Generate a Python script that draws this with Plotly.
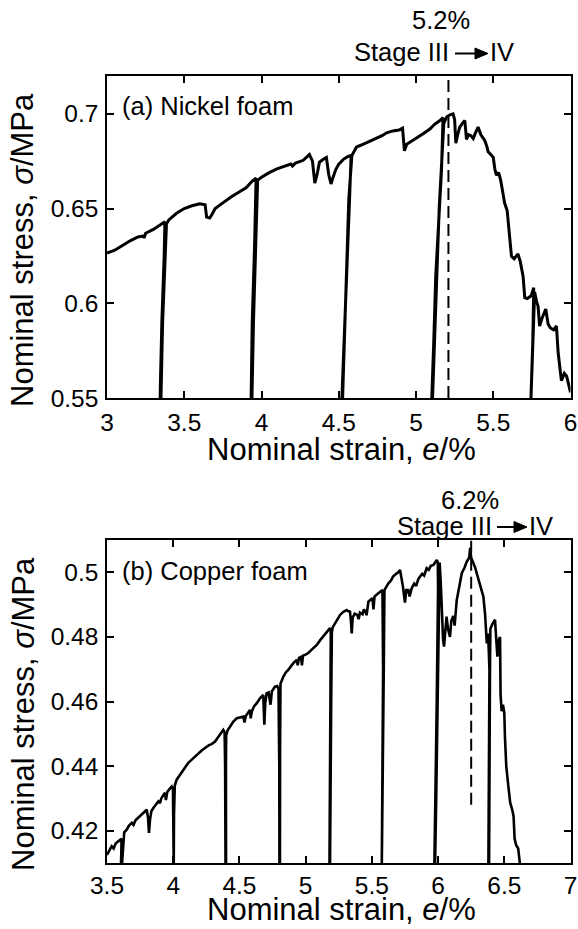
import plotly.graph_objects as go

W, H = 578, 929

# ---------------- data: (a) Nickel foam ----------------
ni_strain = [3.00, 3.05, 3.10, 3.15, 3.20, 3.235, 3.24, 3.25, 3.30, 3.35, 3.375,
             3.37, 3.355, 3.345, 3.343, 3.348, 3.36, 3.375, 3.385,
             3.40, 3.45, 3.50, 3.55, 3.60, 3.635, 3.645, 3.665, 3.68, 3.70, 3.75, 3.80, 3.85, 3.90, 3.94, 3.965,
             3.955, 3.94, 3.932, 3.937, 3.948, 3.962, 3.975,
             4.00, 4.05, 4.10, 4.15, 4.19, 4.20, 4.22, 4.27, 4.31, 4.33, 4.345, 4.36, 4.375, 4.40, 4.42, 4.435,
             4.45, 4.465, 4.48, 4.50, 4.53, 4.56, 4.58,
             4.57, 4.555, 4.54, 4.525, 4.518, 4.523, 4.535, 4.55, 4.565, 4.585,
             4.615, 4.66, 4.70, 4.745, 4.78, 4.81, 4.85, 4.89, 4.913, 4.925, 4.94, 4.96, 5.00, 5.046, 5.09,
             5.12, 5.155, 5.175,
             5.165, 5.14, 5.128, 5.115, 5.10, 5.105, 5.12, 5.134, 5.15, 5.18,
             5.20, 5.22, 5.24, 5.25, 5.258, 5.27, 5.283, 5.30, 5.316, 5.327, 5.34, 5.355, 5.37, 5.385, 5.402,
             5.42, 5.445, 5.458, 5.467, 5.49, 5.50, 5.51, 5.52, 5.535, 5.548, 5.565, 5.574, 5.59, 5.60, 5.618,
             5.635, 5.66, 5.675, 5.693, 5.704, 5.72, 5.746, 5.762,
             5.756, 5.748, 5.742, 5.746, 5.752, 5.760, 5.768,
             5.78, 5.79, 5.80, 5.815, 5.84, 5.855, 5.87, 5.89, 5.909, 5.92, 5.941, 5.96, 5.975, 5.99, 6.00]
ni_stress = [0.6265, 0.628, 0.6305, 0.633, 0.635, 0.6355, 0.6345, 0.637, 0.639, 0.6415, 0.643,
             0.625, 0.59, 0.555, 0.545, 0.545, 0.59, 0.625, 0.642,
             0.644, 0.6475, 0.650, 0.6515, 0.6525, 0.652, 0.6455, 0.645, 0.647, 0.650, 0.653, 0.656, 0.6585, 0.661, 0.6645, 0.666,
             0.63, 0.59, 0.545, 0.545, 0.59, 0.63, 0.665,
             0.6665, 0.669, 0.671, 0.6725, 0.6735, 0.6725, 0.674, 0.6755, 0.6785, 0.675, 0.6635, 0.668, 0.6745, 0.676, 0.677, 0.668,
             0.663, 0.667, 0.6705, 0.6735, 0.676, 0.6775, 0.678,
             0.655, 0.625, 0.595, 0.56, 0.545, 0.545, 0.58, 0.62, 0.655, 0.678,
             0.6825, 0.684, 0.6855, 0.687, 0.6885, 0.690, 0.691, 0.6915, 0.6925, 0.6805, 0.684, 0.685, 0.687, 0.6895, 0.692,
             0.6945, 0.6965, 0.698,
             0.67, 0.635, 0.615, 0.58, 0.545, 0.545, 0.58, 0.615, 0.65, 0.695,
             0.6985, 0.6995, 0.700, 0.697, 0.6845, 0.689, 0.693, 0.695, 0.6965, 0.6865, 0.689, 0.6885, 0.687, 0.690, 0.693,
             0.689, 0.686, 0.683, 0.680, 0.678, 0.677, 0.671, 0.6676, 0.669, 0.665, 0.657, 0.6528, 0.649, 0.64, 0.6248,
             0.6235, 0.626, 0.622, 0.6143, 0.603, 0.6025, 0.604, 0.6082,
             0.58, 0.56, 0.545, 0.545, 0.56, 0.585, 0.606,
             0.601, 0.5985, 0.588, 0.592, 0.597, 0.589, 0.587, 0.586, 0.588, 0.574, 0.5592, 0.563, 0.5615, 0.556, 0.553]

# ---------------- data: (b) Copper foam ----------------
cu_strain = [3.50, 3.52, 3.535, 3.55, 3.565, 3.585, 3.60, 3.61,
             3.608, 3.605, 3.612, 3.618,
             3.63, 3.649, 3.665, 3.687, 3.70, 3.715, 3.737, 3.76, 3.78, 3.80, 3.81, 3.817, 3.825, 3.835, 3.85,
             3.87, 3.888, 3.90, 3.91, 3.925, 3.938, 3.945, 3.955, 3.97, 3.989, 3.998,
             4.000, 4.000, 4.004, 4.006,
             4.012, 4.026, 4.045, 4.064, 4.09, 4.114, 4.14, 4.165, 4.19, 4.215, 4.24, 4.27, 4.29, 4.316, 4.34,
             4.36, 4.378, 4.388,
             4.392, 4.395, 4.399, 4.398, 4.40, 4.41,
             4.429, 4.454, 4.48, 4.50, 4.53, 4.538, 4.548, 4.565, 4.58, 4.585, 4.593, 4.61, 4.631, 4.655, 4.68,
             4.688, 4.695, 4.705, 4.72, 4.735, 4.745, 4.769, 4.785, 4.795,
             4.801, 4.802, 4.806, 4.807, 4.81,
             4.832, 4.85, 4.869, 4.89, 4.91, 4.933, 4.94, 4.95, 4.965, 4.972, 4.98, 5.00, 5.02, 5.05, 5.084,
             5.11, 5.134, 5.16, 5.184, 5.19,
             5.188, 5.18, 5.184, 5.193, 5.198,
             5.205, 5.222, 5.24, 5.26, 5.285, 5.31, 5.32, 5.335, 5.342, 5.348, 5.355, 5.37, 5.39, 5.40, 5.41,
             5.43, 5.44, 5.455, 5.46, 5.474, 5.49, 5.505, 5.512, 5.52, 5.54, 5.562, 5.58,
             5.585, 5.575, 5.58, 5.59, 5.595,
             5.61, 5.625, 5.645, 5.66, 5.685, 5.70, 5.713, 5.725, 5.735, 5.75, 5.76, 5.775, 5.785, 5.80, 5.82,
             5.835, 5.85, 5.864, 5.88, 5.895, 5.914, 5.93, 5.945, 5.965, 5.978, 5.99, 5.998,
             6.000, 5.99, 5.98, 5.972, 5.977, 5.986, 5.995, 6.006,
             6.012, 6.02, 6.028, 6.038, 6.045, 6.055, 6.064, 6.075, 6.09, 6.10, 6.115, 6.125, 6.141, 6.16, 6.179,
             6.20, 6.217, 6.235, 6.242, 6.25, 6.267, 6.28, 6.29, 6.30, 6.317, 6.33, 6.342, 6.355, 6.368, 6.378,
             6.388, 6.38, 6.385, 6.392, 6.395,
             6.41, 6.43, 6.438, 6.448, 6.458, 6.468, 6.472, 6.48, 6.49, 6.50, 6.505, 6.515, 6.53, 6.545, 6.56,
             6.57, 6.578, 6.59, 6.605, 6.615, 6.62]
cu_stress = [0.4125, 0.414, 0.4152, 0.4145, 0.416, 0.4167, 0.4172, 0.4175,
             0.413, 0.409, 0.409, 0.414,
             0.4195, 0.4203, 0.4215, 0.4224, 0.4218, 0.4232, 0.424, 0.425, 0.4258, 0.4265, 0.424, 0.4193, 0.4235, 0.426, 0.427,
             0.428, 0.4291, 0.4285, 0.430, 0.431, 0.4317, 0.4295, 0.432, 0.4328, 0.4337, 0.433,
             0.420, 0.409, 0.409, 0.425,
             0.434, 0.4358, 0.437, 0.4379, 0.4395, 0.441, 0.442, 0.443, 0.4438, 0.4448, 0.4456, 0.4465, 0.4468, 0.4476, 0.449,
             0.450, 0.4512, 0.4505,
             0.440, 0.409, 0.409, 0.440, 0.4495, 0.451,
             0.4522, 0.4538, 0.4548, 0.455, 0.4553, 0.4535, 0.4555, 0.4565, 0.4574, 0.4548, 0.4568, 0.4585, 0.4595, 0.461, 0.462,
             0.4528, 0.4595, 0.4625, 0.4628, 0.459, 0.4632, 0.4646, 0.4648, 0.464,
             0.440, 0.409, 0.409, 0.445, 0.4655,
             0.4677, 0.469, 0.4698, 0.471, 0.472, 0.4729, 0.4712, 0.4735, 0.4738, 0.4712, 0.4742, 0.4745, 0.475, 0.4762, 0.4775,
             0.479, 0.4801, 0.4815, 0.4827, 0.482,
             0.460, 0.409, 0.409, 0.460, 0.4815,
             0.483, 0.4842, 0.4855, 0.4868, 0.4878, 0.4883, 0.488, 0.4878, 0.485, 0.4811, 0.486, 0.4872, 0.4868, 0.4855, 0.4875,
             0.487, 0.4885, 0.4875, 0.4867, 0.4909, 0.4915, 0.492, 0.4885, 0.4925, 0.4932, 0.494, 0.4945,
             0.470, 0.409, 0.409, 0.470, 0.4945,
             0.4958, 0.4966, 0.4975, 0.4987, 0.4996, 0.500, 0.5007, 0.498, 0.4955, 0.4906, 0.4945, 0.4945, 0.4925, 0.495, 0.4965,
             0.4958, 0.4978, 0.4987, 0.4995, 0.499, 0.5013, 0.5008, 0.502, 0.5023, 0.503, 0.5038, 0.503,
             0.495, 0.460, 0.430, 0.409, 0.409, 0.430, 0.460, 0.497,
             0.503, 0.497, 0.4873, 0.479, 0.477, 0.483, 0.4863, 0.4825, 0.480, 0.485, 0.4865, 0.4835, 0.4914, 0.4955, 0.4997,
             0.5015, 0.5033, 0.5045, 0.5076, 0.5045, 0.503, 0.5015, 0.500, 0.4985, 0.4956, 0.4945, 0.4925, 0.487, 0.478, 0.481,
             0.470, 0.409, 0.409, 0.470, 0.4825,
             0.484, 0.4853, 0.480, 0.4739, 0.479, 0.480, 0.462, 0.457, 0.459, 0.4565, 0.449, 0.440, 0.434, 0.4286, 0.4265,
             0.4245, 0.4175, 0.4155, 0.4145, 0.411, 0.409]

# stage III -> IV transition markers (strain, dashed line y-extent)
ni_stage_strain = 5.21
ni_stage_y = [0.55, 0.72]
cu_stage_strain = 6.25
cu_stage_y = [0.428, 0.51]

# axis ticks
ni_xticks = [3, 3.5, 4, 4.5, 5, 5.5, 6]
ni_xtext = ["3", "3.5", "4", "4.5", "5", "5.5", "6"]
ni_yticks = [0.55, 0.6, 0.65, 0.7]
ni_ytext = ["0.55", "0.6", "0.65", "0.7"]
cu_xticks = [3.5, 4, 4.5, 5, 5.5, 6, 6.5, 7]
cu_xtext = ["3.5", "4", "4.5", "5", "5.5", "6", "6.5", "7"]
cu_yticks = [0.42, 0.44, 0.46, 0.48, 0.5]
cu_ytext = ["0.42", "0.44", "0.46", "0.48", "0.5"]

FONT = "Liberation Sans, Arial, Helvetica, sans-serif"
TICKF = 24.5
TITLEF = 31
ANNF = 25.5


def xp(px):
    return px / W


def yp(py):
    return 1 - py / H


fig = go.Figure()
fig.add_trace(go.Scatter(x=ni_strain, y=ni_stress, mode="lines",
                         line=dict(color="black", width=3), xaxis="x", yaxis="y",
                         showlegend=False, hoverinfo="skip"))
fig.add_trace(go.Scatter(x=cu_strain, y=cu_stress, mode="lines",
                         line=dict(color="black", width=2.6), xaxis="x2", yaxis="y2",
                         showlegend=False, hoverinfo="skip"))

axis_common = dict(showline=True, linecolor="black", linewidth=1.5, mirror="ticks",
                   ticks="inside", ticklen=7, tickwidth=1.5, tickcolor="black",
                   showgrid=False, zeroline=False, automargin=False,
                   tickfont=dict(family=FONT, size=TICKF, color="black"))

top_dom = [yp(398), yp(76)]
bot_dom = [yp(863), yp(540)]
xdom = [xp(107), xp(570.5)]

fig.update_layout(
    width=W, height=H, margin=dict(l=0, r=0, t=0, b=0),
    paper_bgcolor="white", plot_bgcolor="white",
    xaxis=dict(domain=xdom, range=[3, 6], tickvals=ni_xticks, ticktext=ni_xtext,
               anchor="y", ticklabelstandoff=2, **axis_common),
    yaxis=dict(domain=top_dom, range=[0.55, 0.72], tickvals=ni_yticks, ticktext=ni_ytext,
               anchor="x", ticklabelstandoff=2, **axis_common),
    xaxis2=dict(domain=xdom, range=[3.5, 7], tickvals=cu_xticks, ticktext=cu_xtext,
                anchor="y2", ticklabelstandoff=0, **axis_common),
    yaxis2=dict(domain=bot_dom, range=[0.41, 0.51], tickvals=cu_yticks, ticktext=cu_ytext,
                anchor="x2", ticklabelstandoff=2, **axis_common),
)

shapes = []
# dashed transition lines
shapes.append(dict(type="line", xref="x", yref="y", x0=ni_stage_strain, x1=ni_stage_strain,
                   y0=ni_stage_y[0], y1=ni_stage_y[1],
                   line=dict(color="black", width=2, dash="12px,6px")))
shapes.append(dict(type="line", xref="x2", yref="y2", x0=cu_stage_strain, x1=cu_stage_strain,
                   y0=cu_stage_y[0], y1=cu_stage_y[1],
                   line=dict(color="black", width=2, dash="12px,6px")))


def arrow(x0, x1, yc):
    # shaft + filled triangular head, in paper coordinates
    shapes.append(dict(type="line", xref="paper", yref="paper", x0=xp(x0), x1=xp(x1 - 10),
                       y0=yp(yc), y1=yp(yc), line=dict(color="black", width=2)))
    path = "M {:.5f},{:.5f} L {:.5f},{:.5f} L {:.5f},{:.5f} Z".format(
        xp(x1 - 13), yp(yc - 5.5), xp(x1 - 13), yp(yc + 5.5), xp(x1), yp(yc))
    shapes.append(dict(type="path", xref="paper", yref="paper", path=path,
                       fillcolor="black", line=dict(color="black", width=1)))


arrow(455, 488, 53.5)
arrow(497, 527, 527)
fig.update_layout(shapes=shapes)

ann = []


def text(px, py, s, size, xanchor="center", angle=0):
    ann.append(dict(x=xp(px), y=yp(py), xref="paper", yref="paper", text=s, showarrow=False,
                    xanchor=xanchor, yanchor="middle", textangle=angle,
                    font=dict(family=FONT, size=size, color="black")))


# top panel texts
text(441, 20, "5.2%", ANNF)
text(451, 52, "Stage III", ANNF, xanchor="right")
text(488, 52, "IV", ANNF, xanchor="left")
text(120, 106, "(a) Nickel foam", ANNF, xanchor="left")
text(341, 449, "Nominal strain, <i>e</i>/%", TITLEF)
text(23, 250, "Nominal stress, <i>σ</i>/MPa", TITLEF, angle=-90)

# bottom panel texts
text(470, 500, "6.2%", ANNF)
text(494, 526, "Stage III", ANNF, xanchor="right")
text(527, 526, "IV", ANNF, xanchor="left")
text(120, 571, "(b) Copper foam", ANNF, xanchor="left")
text(341, 909, "Nominal strain, <i>e</i>/%", TITLEF)
text(23, 714, "Nominal stress, <i>σ</i>/MPa", TITLEF, angle=-90)

fig.update_layout(annotations=ann)
fig.write_html("out.html")
